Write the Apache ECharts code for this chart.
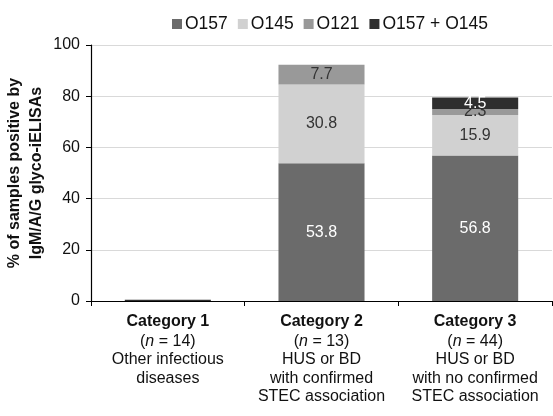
<!DOCTYPE html>
<html><head><meta charset="utf-8">
<script src="https://cdn.jsdelivr.net/npm/echarts@6/dist/echarts.min.js"></script>
<style>html,body{margin:0;padding:0;background:#fff}#c{width:553px;height:416px}</style>
</head><body><div id="c"></div>
<script>
var categories = ['Category 1', 'Category 2', 'Category 3'];
var nValues = [14, 13, 44];
var descriptions = [['Other infectious', 'diseases'], ['HUS or BD', 'with confirmed', 'STEC association'], ['HUS or BD', 'with no confirmed', 'STEC association']];
var seriesNames = ['O157', 'O145', 'O121', 'O157 + O145'];
var o157 = [0, 53.8, 56.8];
var o145 = [0, 30.8, 15.9];
var o121 = [0, 7.7, 2.3];
var o157o145 = [0.5, 0, 4.5];
var yTicks = [0, 20, 40, 60, 80, 100];

var colors = ['#6b6b6b', '#d1d1d1', '#999999', '#2e2e2e'];
var labelColors = ['#ffffff', '#333333', '#333333', '#ffffff'];
var allData = [o157, o145, o121, o157o145];
var font = '"Liberation Sans", Arial, sans-serif';

var chart = echarts.init(document.getElementById('c'));
chart.setOption({
  animation: false,
  textStyle: {fontFamily: font},
  legend: {
    data: seriesNames, left: 167, top: 10, width: 400, icon: 'rect', itemWidth: 10, itemHeight: 10, itemGap: 10,
    textStyle: {fontSize: 17.5, color: '#111', fontFamily: font, padding: [0, 0, 0, -2]}
  },
  grid: {left: 91, right: 1, top: 45, bottom: 115, outerBoundsMode: 'none', containLabel: false},
  xAxis: {
    type: 'category', data: categories,
    axisLine: {lineStyle: {color: '#000', width: 1.2}},
    axisTick: {show: true, length: 5, lineStyle: {color: '#000'}},
    axisLabel: {
      interval: 0, margin: 10, color: '#111',
      formatter: function (v, i) {
        var s = '{b|' + v + '}\n{r|(}{i|n}{r| = ' + nValues[i] + ')}';
        descriptions[i].forEach(function (d) { s += '\n{r|' + d + '}'; });
        return s;
      },
      rich: {
        b: {fontWeight: 'bold', fontSize: 16, lineHeight: 21, fontFamily: font, color: '#111'},
        r: {fontSize: 16, lineHeight: 18.5, fontFamily: font, color: '#111'},
        i: {fontSize: 16, fontStyle: 'italic', lineHeight: 18.5, fontFamily: font, color: '#111'}
      }
    }
  },
  yAxis: {
    type: 'value', min: 0, max: 100, interval: 20,
    name: '% of samples positive by\nIgM/A/G glyco-iELISAs', nameLocation: 'middle', nameGap: 43, nameMoveOverlap: false,
    nameTextStyle: {fontWeight: 'bold', fontSize: 16, lineHeight: 22, color: '#111', fontFamily: font},
    axisLine: {show: true, lineStyle: {color: '#000', width: 1.2}},
    axisTick: {show: true, length: 5, lineStyle: {color: '#000'}},
    axisLabel: {fontSize: 16, color: '#111', margin: 11, formatter: function (v) { return yTicks.indexOf(v) >= 0 ? String(v) : ''; }},
    splitLine: {lineStyle: {color: '#d9d9d9'}}
  },
  series: seriesNames.map(function (name, k) {
    return {
      name: name, type: 'bar', stack: 'total', barWidth: '56%',
      data: allData[k], itemStyle: {color: colors[k]},
      label: {
        show: true, position: 'inside', fontSize: 16, color: labelColors[k], fontFamily: font,
        formatter: function (p) { return p.value >= 1 ? p.value.toFixed(1) : ''; }
      }
    };
  })
});
</script></body></html>
